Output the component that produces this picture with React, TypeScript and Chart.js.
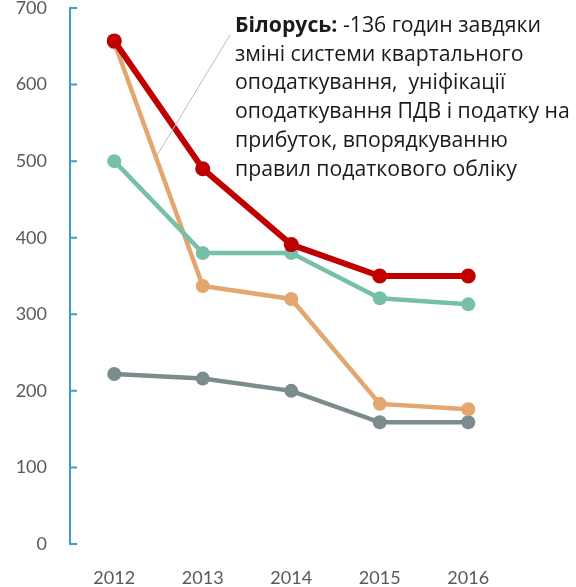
import { useEffect, useRef } from "react";
import { Chart, registerables } from "chart.js";

Chart.register(...registerables);

const years = ["2012", "2013", "2014", "2015", "2016"];
const belarus = [657, 490, 391, 350, 350];
const seriesOrange = [655, 337, 320, 183, 176];
const seriesTeal = [500, 380, 380, 321, 313];
const seriesGray = [222, 216, 200, 159, 159];
const yTickValues = [0, 100, 200, 300, 400, 500, 600, 700];

const noteBold = "Білорусь:";
const noteFirstRest = " -136 годин завдяки";
const noteLines = [
  "зміні системи квартального",
  "оподаткування,  уніфікації",
  "оподаткування ПДВ і податку на",
  "прибуток, впорядкуванню",
  "правил податкового обліку",
];

const AXIS_COLOR = "#3d9dca";

const axisPlugin = {
  id: "innerAxis",
  afterDatasetsDraw(chart: any) {
    const { ctx, chartArea } = chart;
    const y = chart.scales.y;
    ctx.save();
    ctx.strokeStyle = AXIS_COLOR;
    ctx.lineWidth = 2;
    ctx.beginPath();
    const x0 = chartArea.left;
    ctx.moveTo(x0, y.getPixelForValue(700));
    ctx.lineTo(x0, y.getPixelForValue(0));
    for (const v of yTickValues) {
      const py = y.getPixelForValue(v);
      ctx.moveTo(x0 - 1, py);
      ctx.lineTo(x0 + 7, py);
    }
    ctx.stroke();
    ctx.restore();
  },
};

const notePlugin = {
  id: "note",
  afterDraw(chart: any) {
    const { ctx, chartArea } = chart;
    ctx.save();
    ctx.strokeStyle = "#bdbdbd";
    ctx.lineWidth = 1;
    ctx.beginPath();
    ctx.moveTo(chartArea.left + 86, chartArea.top + 149);
    ctx.lineTo(chartArea.left + 160, chartArea.top + 27);
    ctx.stroke();

    const family = "'Open Sans', sans-serif";
    ctx.font = `20px ${family}`;
    const target = 335;
    const w = ctx.measureText(noteLines[2]).width;
    const size = (20 * target) / w;
    const x = chartArea.left + 165;
    const baseline0 = chartArea.top + 24;
    const step = 28.7;
    ctx.fillStyle = "#1a1a1a";
    ctx.textBaseline = "alphabetic";
    ctx.textAlign = "left";
    ctx.font = `bold ${size}px ${family}`;
    ctx.fillText(noteBold, x, baseline0);
    const bw = ctx.measureText(noteBold).width;
    ctx.font = `${size}px ${family}`;
    ctx.fillText(noteFirstRest, x + bw, baseline0);
    noteLines.forEach((line, i) => {
      ctx.fillText(line, x, baseline0 + step * (i + 1));
    });
    ctx.restore();
  },
};

export default function App() {
  const ref = useRef<HTMLCanvasElement | null>(null);
  useEffect(() => {
    document.body.style.margin = "0";
    if (!ref.current) return;
    const mk = (label: string, data: number[], color: string, width: number, r: number) => ({
      label,
      data,
      borderColor: color,
      backgroundColor: color,
      pointBackgroundColor: color,
      pointBorderColor: color,
      borderWidth: width,
      pointRadius: r,
      pointBorderWidth: 0,
      tension: 0,
    });
    const chart = new Chart(ref.current, {
      type: "line",
      data: {
        labels: years,
        datasets: [
          mk("Білорусь", belarus, "#c00000", 6, 7.5),
          mk("Країна 2", seriesTeal, "#76c0a8", 4.5, 7),
          mk("Країна 3", seriesOrange, "#e3a66f", 4.5, 7),
          mk("Країна 4", seriesGray, "#7a8c8d", 4.5, 7),
        ],
      },
      options: {
        responsive: false,
        animation: false,
        layout: { padding: { top: 8, right: 63.5, left: 0, bottom: 0 } },
        plugins: { legend: { display: false }, tooltip: { enabled: false } },
        scales: {
          x: {
            offset: true,
            grid: { display: false, drawTicks: false },
            border: { display: false },
            ticks: {
              color: "#595959",
              font: { family: "Lato, sans-serif", size: 18 },
              padding: 23,
              maxRotation: 0,
            },
            afterFit(scale: any) {
              scale.height = 43;
            },
          },
          y: {
            min: 0,
            max: 700,
            grid: { display: false, drawTicks: false },
            border: { display: false },
            ticks: {
              stepSize: 100,
              color: "#595959",
              font: { family: "Lato, sans-serif", size: 18 },
              padding: 23,
            },
            afterFit(scale: any) {
              scale.width = 70;
              scale.paddingTop = 0;
              scale.paddingBottom = 0;
            },
          },
        },
      },
      plugins: [axisPlugin, notePlugin],
    });
    return () => chart.destroy();
  }, []);
  return (
    <div style={{ width: 576, height: 587 }}>
      <canvas ref={ref} width={576} height={587} />
    </div>
  );
}
